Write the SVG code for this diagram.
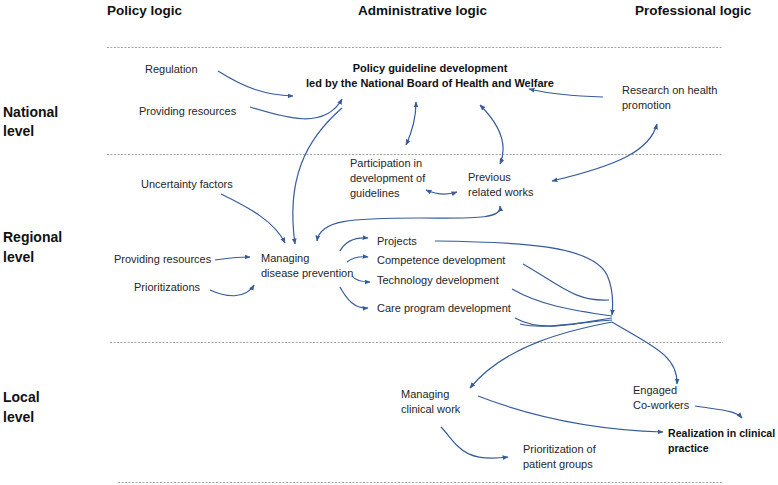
<svg xmlns="http://www.w3.org/2000/svg" width="778" height="485" viewBox="0 0 778 485">
<style>
.t{font-family:"Liberation Sans",Arial,sans-serif;font-size:11px;fill:#262626}
.b{font-family:"Liberation Sans",Arial,sans-serif;font-size:11px;font-weight:bold;fill:#111}
.h{font-family:"Liberation Sans",Arial,sans-serif;font-size:13.5px;font-weight:bold;fill:#111}
.r{font-family:"Liberation Sans",Arial,sans-serif;font-size:14px;font-weight:bold;fill:#111}
.d{stroke:#8a8a8a;stroke-width:0.8;stroke-dasharray:2 1.5;fill:none}
.c{stroke:#375c9c;stroke-width:1.2;fill:none;marker-end:url(#a)}
.cc{stroke:#375c9c;stroke-width:1.2;fill:none;marker-end:url(#a);marker-start:url(#a)}
.n{stroke:#375c9c;stroke-width:1.2;fill:none}
</style>
<defs>
<marker id="a" viewBox="0 0 10 10" refX="9" refY="5" markerWidth="6" markerHeight="6" markerUnits="userSpaceOnUse" orient="auto-start-reverse">
<path d="M0,1 L10,5 L0,9 Z" fill="#375c9c"/>
</marker>
</defs>
<rect width="778" height="485" fill="#fff"/>
<g id="headers">
<text class="h" x="107" y="15">Policy logic</text>
<text class="h" x="358" y="15">Administrative logic</text>
<text class="h" x="635" y="15">Professional logic</text>
</g>
<g id="levels">
<text class="r" x="3" y="117">National</text>
<text class="r" x="3" y="136">level</text>
<text class="r" x="3" y="242">Regional</text>
<text class="r" x="3" y="262">level</text>
<text class="r" x="3" y="402">Local</text>
<text class="r" x="3" y="422">level</text>
</g>
<g id="dividers">
<line class="d" x1="107" y1="47.5" x2="722" y2="47.5"/>
<line class="d" x1="107" y1="154.5" x2="722" y2="154.5"/>
<line class="d" x1="110" y1="342.5" x2="723" y2="342.5"/>
<line class="d" x1="118" y1="482.5" x2="723" y2="482.5"/>
</g>
<g id="connectors">
<path class="c" d="M218,71 C245,88 265,95 293,96"/>
<path class="c" d="M250,107 C285,118 325,130 342,99"/>
<path class="c" d="M342,108 C305,140 286,180 295,244"/>
<path class="c" d="M221,194 C250,208 275,222 285,243"/>
<path class="cc" d="M500,206 C502,220 470,218 420,218 C350,218 320,220 317,241"/>
<path class="c" d="M340,251 C345,242 355,237 368,238"/>
<path class="c" d="M347,262 C352,258 358,256 368,257"/>
<path class="c" d="M352,276 C356,281 362,282 370,282"/>
<path class="c" d="M340,287 C347,300 355,309 368,308"/>
<path class="c" d="M435,241 C520,242 592,245 607,275 C614,290 613,305 612,315"/>
<path class="n" d="M523,264 C560,285 575,302 609,300"/>
<path class="n" d="M512,289 C540,305 570,310 612,316"/>
<path class="n" d="M515,318 C540,332 570,325 612,318"/>
<path class="n" d="M520,324 C545,330 580,322 612,320"/>
<path class="c" d="M612,322 C570,330 505,345 470,388"/>
<path class="c" d="M612,322 C650,345 678,355 677,384"/>
<path class="c" d="M695,406 C720,410 735,410 742,418"/>
<path class="c" d="M478,396 C540,420 600,430 663,432"/>
<path class="c" d="M441,427 C458,445 462,463 508,457"/>
<path class="c" d="M603,97 C570,96 550,94 529,89"/>
<path class="cc" d="M552,181 C620,165 650,150 657,124"/>
<path class="cc" d="M416,102 C416,120 412,132 406,145"/>
<path class="cc" d="M480,105 C500,125 508,145 500,164"/>
<path class="cc" d="M426,190 Q442,197 457,192"/>
<path class="c" d="M215,260 C228,258 238,257 250,257"/>
<path class="c" d="M210,290 C225,297 245,300 254,285"/>
</g>
<g id="n-regulation"><text class="t" x="145" y="73">Regulation</text></g>
<g id="n-resources-national"><text class="t" x="139" y="115">Providing resources</text></g>
<g id="n-policy-guideline">
<text class="b" x="430" y="72" text-anchor="middle">Policy guideline development</text>
<text class="b" x="430" y="87" text-anchor="middle">led by the National Board of Health and Welfare</text>
</g>
<g id="n-research"><text class="t" x="622" y="94">Research on health</text><text class="t" x="622" y="109">promotion</text></g>
<g id="n-participation"><text class="t" x="350" y="167">Participation in</text><text class="t" x="350" y="182">development of</text><text class="t" x="350" y="197">guidelines</text></g>
<g id="n-previous"><text class="t" x="468" y="181">Previous</text><text class="t" x="468" y="196">related works</text></g>
<g id="n-uncertainty"><text class="t" x="141" y="188">Uncertainty factors</text></g>
<g id="n-managing-disease"><text class="t" x="261" y="262">Managing</text><text class="t" x="261" y="277">disease prevention</text></g>
<g id="n-resources-regional"><text class="t" x="114" y="263">Providing resources</text></g>
<g id="n-prioritizations"><text class="t" x="134" y="291">Prioritizations</text></g>
<g id="n-projects"><text class="t" x="377" y="245">Projects</text></g>
<g id="n-competence"><text class="t" x="377" y="264">Competence development</text></g>
<g id="n-technology"><text class="t" x="377" y="284">Technology development</text></g>
<g id="n-care"><text class="t" x="377" y="312">Care program development</text></g>
<g id="n-managing-clinical"><text class="t" x="401" y="398">Managing</text><text class="t" x="401" y="413">clinical work</text></g>
<g id="n-engaged"><text class="t" x="633" y="394">Engaged</text><text class="t" x="633" y="409">Co-workers</text></g>
<g id="n-realization"><text class="b" x="668" y="437" style="font-size:10.6px">Realization in clinical</text><text class="b" x="668" y="452" style="font-size:10.6px">practice</text></g>
<g id="n-prioritization-patient"><text class="t" x="523" y="453">Prioritization of</text><text class="t" x="523" y="468">patient groups</text></g>
</svg>
